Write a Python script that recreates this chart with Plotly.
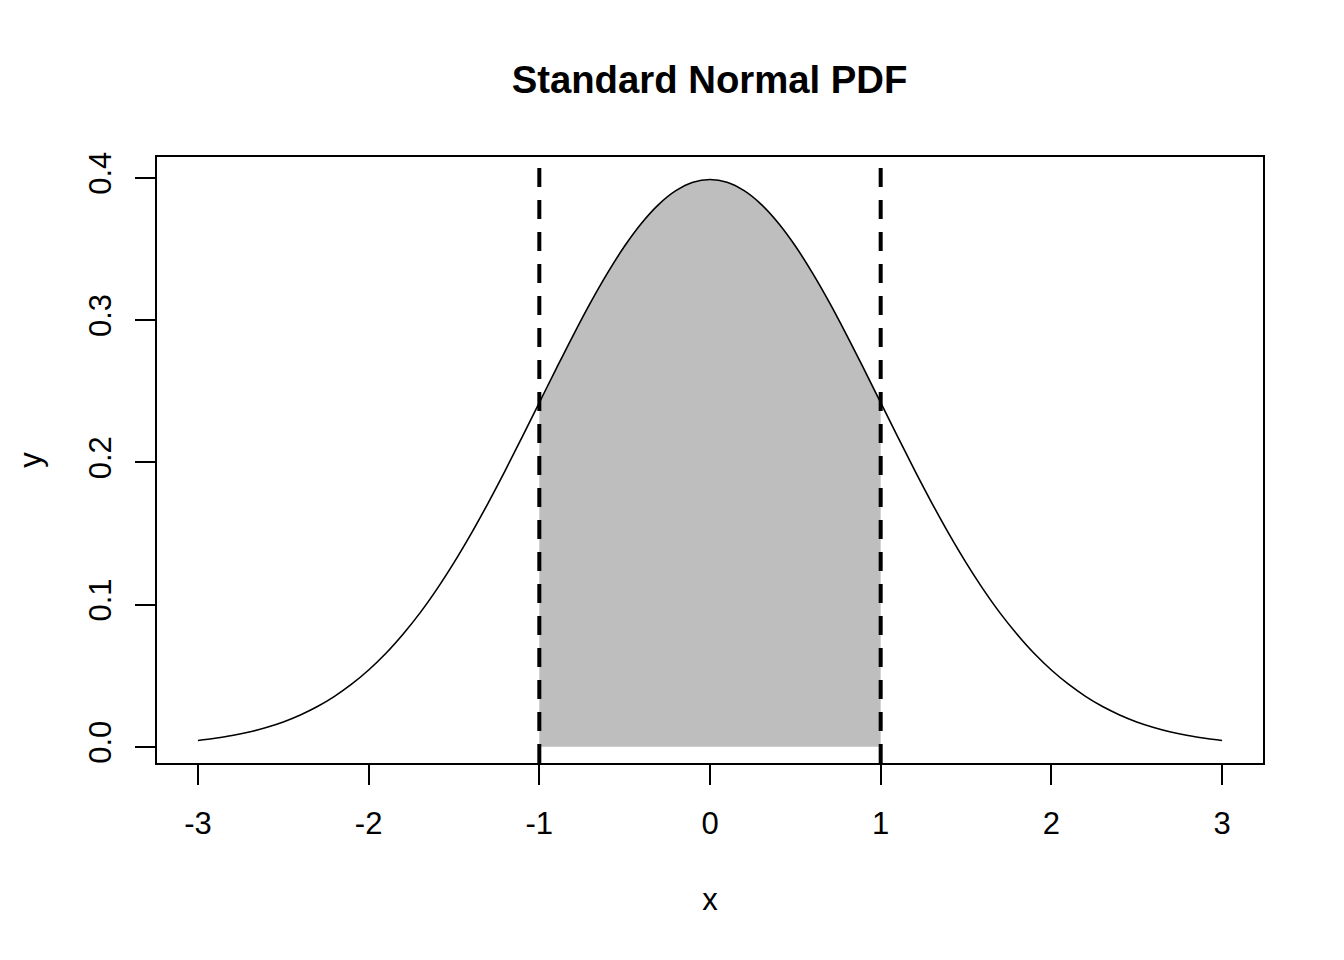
import plotly.graph_objects as go

# Data (standard normal density, step 0.1)
x_vals = [round(-3 + 0.1 * i, 1) for i in range(61)]
y_vals = [0.0044, 0.0060, 0.0079, 0.0104, 0.0136, 0.0175, 0.0224, 0.0283, 0.0355, 0.0440,
          0.0540, 0.0656, 0.0790, 0.0940, 0.1109, 0.1295, 0.1497, 0.1714, 0.1942, 0.2179,
          0.2420, 0.2661, 0.2897, 0.3123, 0.3332, 0.3521, 0.3683, 0.3814, 0.3910, 0.3970,
          0.3989,
          0.3970, 0.3910, 0.3814, 0.3683, 0.3521, 0.3332, 0.3123, 0.2897, 0.2661, 0.2420,
          0.2179, 0.1942, 0.1714, 0.1497, 0.1295, 0.1109, 0.0940, 0.0790, 0.0656, 0.0540,
          0.0440, 0.0355, 0.0283, 0.0224, 0.0175, 0.0136, 0.0104, 0.0079, 0.0060, 0.0044]
cutoffs = [-1, 1]
x_ticks = [-3, -2, -1, 0, 1, 2, 3]
y_ticks = [0.0, 0.1, 0.2, 0.3, 0.4]
y_tick_labels = ["0.0", "0.1", "0.2", "0.3", "0.4"]

FONT = "Liberation Sans, Arial, Helvetica, sans-serif"

sub_x = [x for x in x_vals if cutoffs[0] <= x <= cutoffs[1]]
sub_y = [y for x, y in zip(x_vals, y_vals) if cutoffs[0] <= x <= cutoffs[1]]

fig = go.Figure()
fig.add_trace(go.Scatter(
    x=[cutoffs[0]] + sub_x + [cutoffs[1]],
    y=[0] + sub_y + [0],
    fill="toself", fillcolor="#BEBEBE", line=dict(width=0), mode="lines",
    hoverinfo="skip", showlegend=False))
fig.add_trace(go.Scatter(
    x=x_vals, y=y_vals, mode="lines", line=dict(color="black", width=1.6, shape="spline"),
    showlegend=False))

for c in cutoffs:
    fig.add_shape(type="line", xref="x", yref="paper", x0=c, x1=c, y0=0, y1=1,
                  line=dict(color="black", width=4, dash="19px,13px"))

ymin = min(y_vals)
ymax = max(y_vals)
ypad = (ymax - ymin) * 0.04
xpad = (max(x_vals) - min(x_vals)) * 0.04

fig.update_layout(
    width=1336, height=952,
    margin=dict(l=149, r=81, t=149, b=197),
    paper_bgcolor="white", plot_bgcolor="white",
    font=dict(family=FONT, size=31, color="black"),
    title=dict(text="<b>Standard Normal PDF</b>", x=0.5251, xanchor="center",
               y=1 - 72 / 952, yanchor="middle", yref="container",
               font=dict(size=38.3, family=FONT, color="black")),
    xaxis=dict(range=[min(x_vals) - xpad, max(x_vals) + xpad], tickvals=x_ticks,
               ticktext=[str(t) for t in x_ticks],
               ticks="outside", ticklen=20, tickwidth=2, tickcolor="black",
               showline=True, linecolor="black", linewidth=2, mirror=True,
               showgrid=False, zeroline=False, ticklabelstandoff=12,
               title=dict(text="x", standoff=48, font=dict(size=31))),
    yaxis=dict(range=[ymin - ypad, ymax + ypad], tickvals=y_ticks, ticktext=y_tick_labels,
               tickangle=-90,
               ticks="outside", ticklen=20, tickwidth=2, tickcolor="black",
               showline=True, linecolor="black", linewidth=2, mirror=True,
               showgrid=False, zeroline=False, ticklabelstandoff=12,
               title=dict(text="y", standoff=32, font=dict(size=31))),
)

fig.write_html("out.html")
